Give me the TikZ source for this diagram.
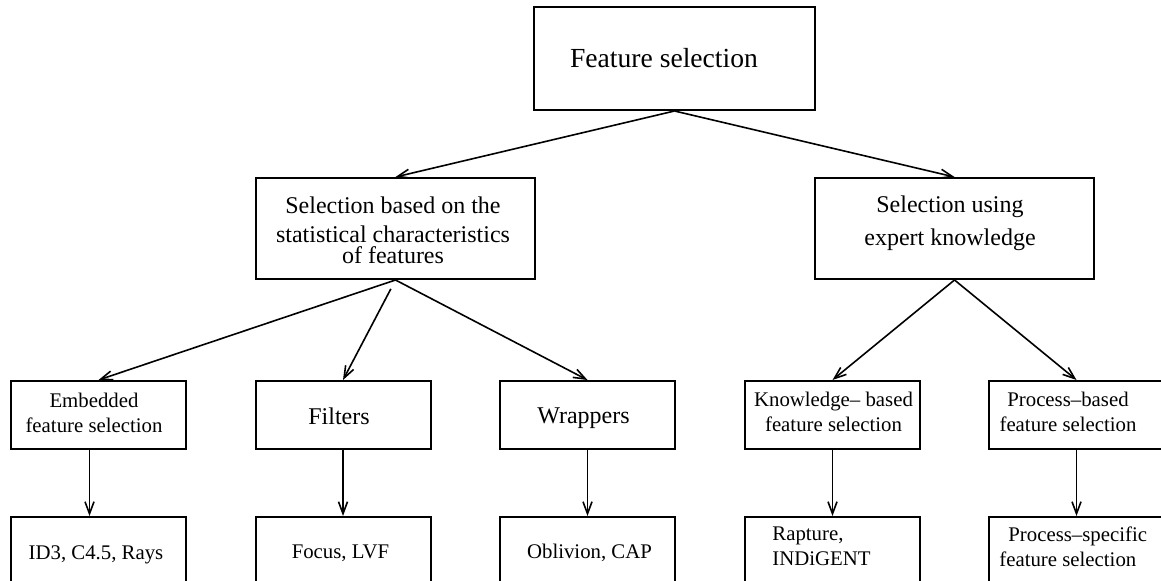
\documentclass[tikz,border=0pt]{standalone}
\usepackage{fontspec}
\setmainfont{Liberation Serif}
\usetikzlibrary{arrows.meta}

\begin{document}
\begin{tikzpicture}[x=0.5pt, y=-0.5pt,
  box/.style={draw, line width=1pt, rectangle, inner sep=0pt},
  midbox/.style={box, minimum width=139.5pt, minimum height=50.5pt},
  topbox/.style={box, minimum width=140.5pt, minimum height=51.5pt},
  lowbox/.style={box, minimum width=87.5pt, minimum height=34pt},
  leafbox/.style={box, minimum width=87.5pt, minimum height=50pt, anchor=north},
  big/.style={inner sep=0pt, font=\fontsize{13.8}{16.5}\selectfont},
  mid/.style={inner sep=0pt, align=center, font=\fontsize{12}{14.5}\selectfont},
  small/.style={inner sep=0pt, align=center, font=\fontsize{10.4}{12.5}\selectfont},
  arr/.style={line width=0.8pt, -{Straight Barb[length=6pt, width=4.5pt, line width=0.8pt]}}
]
\useasboundingbox (0,0) rectangle (1161,581);
\clip (0,0) rectangle (1161,581);

% boxes
\node[topbox] (fs) at (674.5,58.5) {};
\node[midbox] (stat) at (395.5,228.5) {};
\node[midbox] (expert) at (954.5,228.5) {};
\node[lowbox] (emb) at (98.5,415) {};
\node[lowbox] (fil) at (343,415) {};
\node[lowbox] (wra) at (587.5,415) {};
\node[lowbox] (kno) at (832.5,415) {};
\node[lowbox] (pro) at (1076.5,415) {};
\node[leafbox] (id3) at (98.5,516) {};
\node[leafbox] (foc) at (343,516) {};
\node[leafbox] (obl) at (587.5,516) {};
\node[leafbox] (rap) at (832.5,516) {};
\node[leafbox] (pss) at (1076.5,516) {};

% labels
\node[big, anchor=base] (tfs) at (664,68) {Feature selection};
\node[mid] (tstat) at (393,230) {Selection based on the\\statistical characteristics\\[-4pt]of features};
\node[mid] (texpert) at (950,223) {Selection using\\[2pt]expert knowledge};
\node[small] (temb) at (94,412.5) {Embedded\\feature selection};
\node[mid, anchor=base] (tfil) at (339,425) {Filters};
\node[mid, anchor=base] (twra) at (583.5,424) {Wrappers};
\node[small] (tkno) at (833.5,412) {Knowledge– based\\feature selection};
\node[small] (tpro) at (1068,412) {Process–based\\feature selection};
\node[small, anchor=base] (tid3) at (96,560) {ID3, C4.5, Rays};
\node[small, anchor=base] (tfoc) at (340.5,559) {Focus, LVF};
\node[small, anchor=base] (tobl) at (589.5,559) {Oblivion, CAP};
\node[small, align=left, anchor=north west] (trap) at (772,526) {Rapture,\\INDiGENT};
\node[small, align=left, anchor=north west] (tpss) at (999,526) {\hspace*{4.5pt}Process–specific\\feature selection};

% connectors
\draw[arr] (fs.south) -- (stat.north);
\draw[arr] (fs.south) -- (expert.north);
\draw[arr] (stat.south) -- (emb.north);
\draw[arr, shorten <=5pt] (stat.south) -- (fil.north);
\draw[arr] (stat.south) -- (wra.north);
\draw[arr] (expert.south) -- (kno.north);
\draw[arr] (expert.south) -- (pro.north);
\draw[arr] ([xshift=-4.5pt]emb.south) -- ([xshift=-4.5pt]id3.north);
\draw[arr] (fil.south) -- (foc.north);
\draw[arr] (wra.south) -- (obl.north);
\draw[arr] (kno.south) -- (rap.north);
\draw[arr] (pro.south) -- (pss.north);
\end{tikzpicture}
\end{document}
